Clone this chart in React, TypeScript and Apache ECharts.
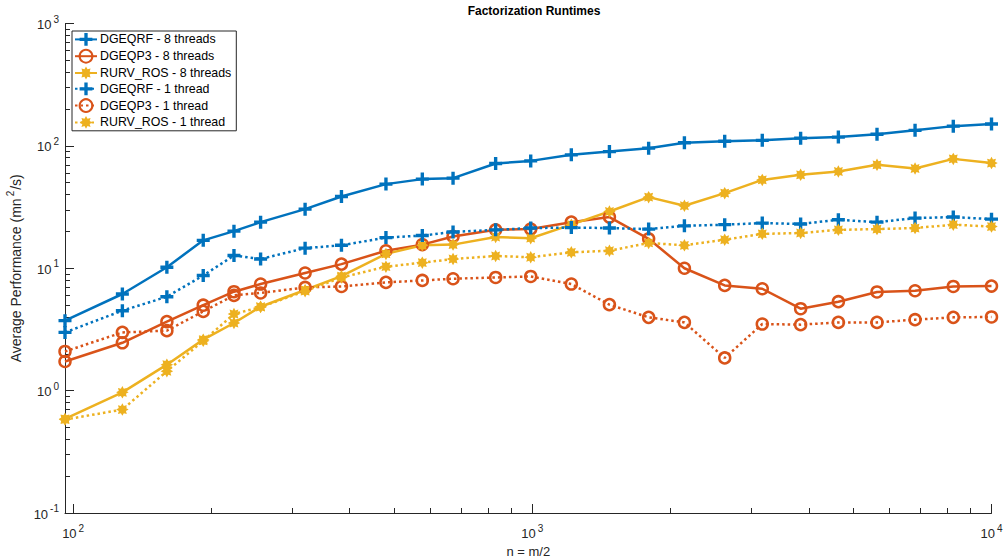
import React, { useEffect, useRef } from 'react';
import * as echarts from 'echarts';

const nValues = [96, 128, 160, 192, 224, 256, 320, 384, 480, 576, 672, 832, 992, 1216, 1472, 1792, 2144, 2624, 3168, 3840, 4640, 5632, 6816, 8256, 10000];

const dgeqrf8 = [3.73, 6.16, 10.2, 16.9, 20.1, 23.8, 30.4, 38.6, 48.7, 53.5, 54.5, 71.7, 75.4, 84.5, 89.8, 95.8, 106, 109, 111, 115.6, 118, 124.6, 134, 145, 151];
const dgeqp3_8 = [1.73, 2.46, 3.66, 4.99, 6.43, 7.43, 9.14, 10.8, 13.9, 15.6, 18.2, 20.6, 20.9, 23.8, 26.2, 17.4, 10.0, 7.24, 6.8, 4.67, 5.33, 6.4, 6.55, 7.1, 7.15];
const rurv8 = [0.587, 0.968, 1.63, 2.61, 3.57, 4.85, 6.64, 8.61, 13.1, 15.4, 15.6, 18.0, 17.6, 22.7, 29.1, 38.1, 32.4, 41.1, 52.7, 58.0, 61.7, 70.0, 65.3, 78.3, 72.3];
const dgeqrf1 = [2.99, 4.5, 5.85, 8.73, 12.7, 11.9, 14.6, 15.4, 17.8, 18.5, 19.8, 20.6, 21.3, 21.5, 21.3, 20.9, 22.2, 22.7, 23.4, 23.0, 24.9, 23.8, 25.7, 26.2, 25.2];
const dgeqp3_1 = [2.09, 2.99, 3.09, 4.44, 6.0, 6.28, 6.97, 7.1, 7.66, 7.95, 8.21, 8.41, 8.57, 7.43, 5.04, 3.97, 3.61, 1.85, 3.5, 3.46, 3.61, 3.61, 3.8, 3.97, 4.0];
const rurv1 = [0.58, 0.7, 1.44, 2.55, 4.23, 4.82, 6.5, 8.4, 10.3, 11.1, 11.9, 12.6, 12.3, 13.5, 13.9, 16.1, 15.4, 17.1, 19.1, 19.4, 20.6, 20.9, 21.3, 22.7, 21.9];

const seriesNames = [
  'DGEQRF - 8 threads',
  'DGEQP3 - 8 threads',
  'RURV_ROS - 8 threads',
  'DGEQRF - 1 thread',
  'DGEQP3 - 1 thread',
  'RURV_ROS - 1 thread',
];

const xMajorTicks = [100, 1000, 10000];
const xMinorTicks = [200, 300, 400, 500, 600, 700, 800, 900, 2000, 3000, 4000, 5000, 6000, 7000, 8000, 9000];
const yMajorTicks = [0.1, 1, 10, 100, 1000];
const yMinorTicks = [0.2, 0.3, 0.4, 0.5, 0.6, 0.7, 0.8, 0.9, 2, 3, 4, 5, 6, 7, 8, 9, 20, 30, 40, 50, 60, 70, 80, 90, 200, 300, 400, 500, 600, 700, 800, 900];

const BLUE = '#0072BD';
const ORANGE = '#D95319';
const YELLOW = '#EDB120';
const AXIS = '#262626';
const FONT = '"Liberation Sans", Arial, Helvetica, sans-serif';

const PLUS = 'path://M3.7,0H6.3V3.7H10V6.3H6.3V10H3.7V6.3H0V3.7H3.7Z';

function starPath(): string {
  const pts: string[] = [];
  const n = 8;
  for (let i = 0; i < 2 * n; i++) {
    const a = (i * Math.PI) / n - Math.PI / 2;
    const r = i % 2 === 0 ? 10 : 6.2;
    pts.push(`${(10 + r * Math.cos(a)).toFixed(2)},${(10 + r * Math.sin(a)).toFixed(2)}`);
  }
  return 'path://M' + pts.join('L') + 'Z';
}
const STAR = starPath();

const DOTTED = [2.5, 3];

function makeSeries(name: string, values: number[], color: string, kind: 'plus' | 'circle' | 'star', dotted: boolean) {
  const symbol = kind === 'plus' ? PLUS : kind === 'circle' ? 'circle' : STAR;
  const symbolSize = kind === 'plus' ? 13 : kind === 'circle' ? 11 : 12.5;
  const itemStyle =
    kind === 'circle'
      ? { color: 'rgba(255,255,255,0)', borderColor: color, borderWidth: 2.5 }
      : { color: color, borderWidth: 0 };
  return {
    name,
    type: 'line',
    xAxisIndex: 0,
    yAxisIndex: 0,
    data: nValues.map((n, i) => [n, values[i]]),
    symbol,
    symbolSize,
    showAllSymbol: true,
    color,
    lineStyle: { color, width: 2.5, type: dotted ? DOTTED : 'solid' },
    itemStyle,
    emphasis: { disabled: true },
    clip: false,
  };
}

const supFormatter = (v: number) => {
  const e = Math.round(Math.log10(v));
  return `{b|10}{e|${e}}`;
};

const richLabel = {
  b: { fontSize: 13, fontFamily: FONT, color: AXIS, verticalAlign: 'bottom', lineHeight: 15 },
  e: { fontSize: 10, fontFamily: FONT, color: AXIS, verticalAlign: 'bottom', lineHeight: 11, padding: [0, 0, 7, 2] },
};

function buildOption() {
  return {
    animation: false,
    backgroundColor: '#ffffff',
    title: {
      text: 'Factorization Runtimes',
      left: 529,
      textAlign: 'center',
      top: 0,
      padding: [5, 5],
      textStyle: { fontSize: 12, fontWeight: 'bold', fontFamily: FONT, color: '#000' },
    },
    legend: {
      orient: 'vertical',
      left: 72,
      top: 31,
      data: seriesNames,
      itemWidth: 22,
      itemHeight: 16,
      itemGap: 3,
      padding: [2, 5, 2, 2],
      borderColor: AXIS,
      borderWidth: 1,
      backgroundColor: '#fff',
      textStyle: { fontSize: 12.4, fontFamily: FONT, color: '#000', padding: [0, 0, 0, -2] },
    },
    grid: { left: 65, right: 14.5, top: 23.5, bottom: 45, containLabel: false, outerBoundsMode: 'none' },
    xAxis: [
      {
        type: 'log',
        logBase: 10,
        min: 96,
        max: 10000,
        position: 'bottom',
        name: 'n = m/2',
        nameLocation: 'middle',
        nameGap: 30,
        nameTextStyle: { fontSize: 13, fontFamily: FONT, color: AXIS },
        axisLine: { show: true, onZero: false, lineStyle: { color: AXIS, width: 1 } },
        axisTick: { show: true, inside: true, length: 9, customValues: xMajorTicks, lineStyle: { color: AXIS } },
        axisLabel: { show: true, customValues: xMajorTicks, margin: 12, formatter: supFormatter, rich: richLabel },
        splitLine: { show: false },
        minorTick: { show: false },
      },
      {
        type: 'log',
        logBase: 10,
        min: 96,
        max: 10000,
        position: 'bottom',
        axisLine: { show: false, onZero: false },
        axisTick: { show: true, inside: true, length: 5, customValues: xMinorTicks, lineStyle: { color: AXIS } },
        axisLabel: { show: false },
        splitLine: { show: false },
      },
    ],
    yAxis: [
      {
        type: 'log',
        logBase: 10,
        min: 0.1,
        max: 1000,
        position: 'left',
        name: '{a|Average Performance (mn}{s|2}{a|/s)}',
        nameLocation: 'middle',
        nameGap: 40,
        nameRotate: 90,
        nameTextStyle: {
          rich: {
            a: { fontSize: 14, fontFamily: FONT, color: AXIS, verticalAlign: 'bottom', lineHeight: 16 },
            s: { fontSize: 10, fontFamily: FONT, color: AXIS, verticalAlign: 'bottom', lineHeight: 11, padding: [0, 1, 7, 2] },
          },
        },
        axisLine: { show: true, onZero: false, lineStyle: { color: AXIS, width: 1 } },
        axisTick: { show: true, inside: true, length: 9, customValues: yMajorTicks, lineStyle: { color: AXIS } },
        axisLabel: { show: true, customValues: yMajorTicks, margin: 6, formatter: supFormatter, rich: richLabel },
        splitLine: { show: false },
        minorTick: { show: false },
      },
      {
        type: 'log',
        logBase: 10,
        min: 0.1,
        max: 1000,
        position: 'left',
        axisLine: { show: false, onZero: false },
        axisTick: { show: true, inside: true, length: 5, customValues: yMinorTicks, lineStyle: { color: AXIS } },
        axisLabel: { show: false },
        splitLine: { show: false },
      },
    ],
    series: [
      makeSeries(seriesNames[0], dgeqrf8, BLUE, 'plus', false),
      makeSeries(seriesNames[1], dgeqp3_8, ORANGE, 'circle', false),
      makeSeries(seriesNames[2], rurv8, YELLOW, 'star', false),
      makeSeries(seriesNames[3], dgeqrf1, BLUE, 'plus', true),
      makeSeries(seriesNames[4], dgeqp3_1, ORANGE, 'circle', true),
      makeSeries(seriesNames[5], rurv1, YELLOW, 'star', true),
    ],
  };
}

export default function App() {
  const ref = useRef<HTMLDivElement>(null);
  useEffect(() => {
    document.body.style.margin = '0';
    const chart = echarts.init(ref.current as HTMLDivElement, null, { renderer: 'svg' });
    chart.setOption(buildOption() as any);
    return () => {
      chart.dispose();
    };
  }, []);
  return <div ref={ref} style={{ width: 1006, height: 558 }} />;
}
